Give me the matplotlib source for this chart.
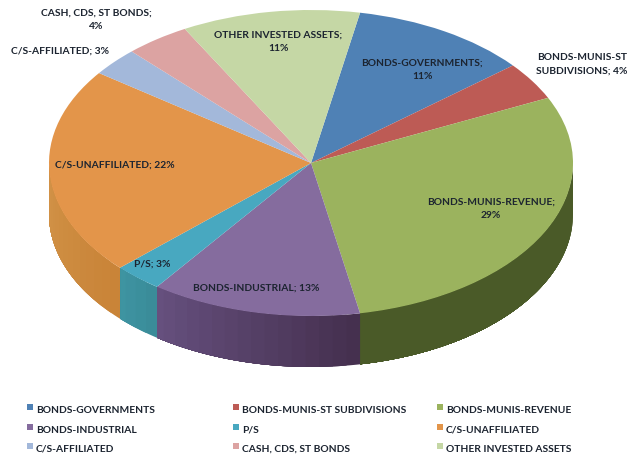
import numpy as np
import matplotlib
matplotlib.use('Agg')
import matplotlib.pyplot as plt
from matplotlib.colors import to_rgb

# Portfolio shares, clockwise from the first slice
labels = ['BONDS-GOVERNMENTS', 'BONDS-MUNIS-ST SUBDIVISIONS', 'BONDS-MUNIS-REVENUE',
          'BONDS-INDUSTRIAL', 'P/S', 'C/S-UNAFFILIATED',
          'C/S-AFFILIATED', 'CASH, CDS, ST BONDS', 'OTHER INVESTED ASSETS']
values = [11, 4, 29, 13, 3, 22, 3, 4, 11]
colors = ['#4f81b5', '#bd5b55', '#9bb35e', '#856c9e', '#48a8c0',
          '#e3954a', '#a3b8da', '#dca3a2', '#c5d7a5']
# wall colour at the start and at the end of each slice (clockwise)
wall_start = ['#3c628a', '#8c4440', '#4a5a28', '#45304f', '#3a8c99',
              '#c98438', '#7e90aa', '#a87e7d', '#98a680']
wall_end = ['#3c628a', '#8c4440', '#4a5a28', '#675180', '#3f95a3',
            '#d29449', '#7e90aa', '#a87e7d', '#98a680']

slice_text = ['BONDS-GOVERNMENTS;\n11%', 'BONDS-MUNIS-ST\nSUBDIVISIONS; 4%',
              'BONDS-MUNIS-REVENUE;\n29%', 'BONDS-INDUSTRIAL; 13%', 'P/S; 3%',
              'C/S-UNAFFILIATED; 22%', 'C/S-AFFILIATED; 3%',
              'CASH, CDS, ST BONDS;\n4%', 'OTHER INVESTED ASSETS;\n11%']
text_xy = [(422, 70), (582, 64), (491, 209), (256, 288), (152, 264),
           (115, 165), (60, 51), (96, 20), (278, 42)]

plt.rcParams['font.family'] = ['Lato', 'DejaVu Sans']
W, H = 630, 461
fig = plt.figure(figsize=(W / 100, H / 100), dpi=100)

# page axes in pixels, for labels and legend
page = fig.add_axes([0, 0, 1, 1])
page.set_xlim(0, W)
page.set_ylim(H, 0)
page.axis('off')
page.set_zorder(5)

# pie axes cover the top ellipse, the axes stretch makes the circle flat
left, right, top, bottom = 49, 573, 10, 316
pie_ax = fig.add_axes([left / W, 1 - bottom / H, (right - left) / W, (bottom - top) / H])
start = 79.2
pie_ax.pie(values, colors=colors, startangle=start, counterclock=False,
           radius=1, wedgeprops={'linewidth': 0, 'zorder': 3})
pie_ax.set_aspect('auto')
pie_ax.set_xlim(-1, 1)
pie_ax.set_ylim(-1, 1)
pie_ax.axis('off')

# side wall: each strip runs to the slice end and the next one paints over it,
# that way there are no seams between strips
depth = 51 / ((bottom - top) / 2)
a0 = start
for v, c0, c1 in zip(values, wall_start, wall_end):
    a1 = a0 - v * 3.6
    lo = max(a1, -180)
    hi = min(a0, 0)
    # strips go from the right end of the slice towards the left
    for t in np.arange(hi, lo, -3.0):
        f = (hi - t) / max(hi - lo, 1)
        col = tuple(p + (q - p) * f for p, q in zip(to_rgb(c0), to_rgb(c1)))
        tt = np.radians(np.linspace(t, lo, 60))
        xs = np.cos(tt)
        ys = np.sin(tt)
        pie_ax.fill(np.r_[xs, xs[::-1]], np.r_[ys, ys[::-1] - depth], color=col,
                    lw=0, clip_on=False, zorder=1)
    a0 = a1

for s, (x, y) in zip(slice_text, text_xy):
    page.text(x, y, s, ha='center', va='center', fontsize=7.4, color='#1c2430',
              fontweight='bold', linespacing=1.65)

# legend
col_x = [36, 242, 446]
row_y = [410, 430, 449]
for i, (lab, c) in enumerate(zip(labels, colors)):
    x = col_x[i % 3]
    y = row_y[i // 3]
    page.scatter([x - 6], [y - 3], marker='s', s=18, color=c, linewidths=0)
    page.text(x, y, lab, ha='left', va='center', fontsize=7.4, color='#1c2430',
              fontweight='bold')

fig.savefig('out.png', dpi=100)
